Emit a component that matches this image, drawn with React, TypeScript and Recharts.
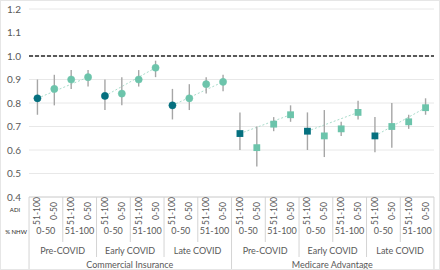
import React from 'react';
import { ComposedChart, Line, XAxis, YAxis, CartesianGrid, ReferenceLine, ErrorBar } from 'recharts';

const insurances = ['Commercial Insurance', 'Medicare Advantage'];
const periods = ['Pre-COVID', 'Early COVID', 'Late COVID'];
const nhwGroups = ['0-50', '51-100'];
const adiGroups = ['51-100', '0-50'];

const estimates = [
  0.82, 0.86, 0.90, 0.91,
  0.83, 0.84, 0.90, 0.95,
  0.79, 0.82, 0.88, 0.89,
  0.67, 0.61, 0.71, 0.75,
  0.68, 0.66, 0.69, 0.76,
  0.66, 0.70, 0.72, 0.78,
];
const lowers = [
  0.75, 0.79, 0.86, 0.87,
  0.77, 0.79, 0.87, 0.91,
  0.73, 0.77, 0.84, 0.85,
  0.60, 0.53, 0.68, 0.72,
  0.60, 0.57, 0.66, 0.73,
  0.59, 0.61, 0.69, 0.75,
];
const uppers = [
  0.90, 0.92, 0.94, 0.94,
  0.90, 0.91, 0.94, 0.98,
  0.86, 0.88, 0.91, 0.92,
  0.76, 0.70, 0.74, 0.79,
  0.76, 0.77, 0.72, 0.81,
  0.74, 0.80, 0.75, 0.82,
];
const yTicks = [0.4, 0.5, 0.6, 0.7, 0.8, 0.9, 1.0, 1.1, 1.2];

const DARK = '#05707f';
const LIGHT = '#6cc4ab';
const TREND = '#a9dccb';
const TEXT = '#595959';
const SEP = '#d4d4d4';

type Row = { [k: string]: any };
const data: Row[] = [];
let idx = 0;
insurances.forEach((ins, ii) => {
  periods.forEach((per, pi) => {
    nhwGroups.forEach((nhw, ni) => {
      adiGroups.forEach((adi, ai) => {
        const v = estimates[idx];
        const g = ii * 3 + pi;
        const pos = ni * 2 + ai;
        const row: Row = {
          key: `${ins}|${per}|${nhw}|${adi}`,
          ins, per, nhw, adi, ii, pi, ni, ai, pos, g, idx,
          value: v,
          err: [+(v - lowers[idx]).toFixed(3), +(uppers[idx] - v).toFixed(3)],
        };
        if (pos === 0 || pos === 3) row[`trend${g}`] = v;
        data.push(row);
        idx++;
      });
    });
  });
});

const BAND = (432 - 29) / 24;
const FONT = 'Lato, "Open Sans", sans-serif';

const Dot = (props: any) => {
  const { cx, cy, payload } = props;
  if (cx == null || cy == null) return null;
  const fill = payload.pos === 0 ? DARK : LIGHT;
  if (payload.ii === 0) {
    return <circle cx={cx} cy={cy} r={3.6} fill={fill} stroke={fill} strokeWidth={0.5} />;
  }
  return <rect x={cx - 3.4} y={cy - 3.4} width={6.8} height={6.8} fill={fill} />;
};

const Tick = (props: any) => {
  const { x, y, payload } = props;
  const row = data[payload.index];
  if (!row) return null;
  const top = y;
  const left = x - BAND / 2;
  const els: any[] = [];
  els.push(
    <text key="adi" x={x + 3} y={top + 14} transform={`rotate(-90 ${x + 3} ${top + 14})`} textAnchor="middle" fontSize={8.5} fill={TEXT} fontFamily={FONT}>
      {row.adi}
    </text>
  );
  if (row.ai === 0) {
    let len = 45;
    if (row.ni === 0) len = 60;
    if (row.ni === 0 && row.pi === 0) len = 73;
    els.push(<path key="sepL" d={`M${left},${top}L${left},${top + len}`} stroke={SEP} strokeWidth={1} fill="none" />);
    els.push(
      <text key="nhw" x={x + BAND / 2} y={top + 37} textAnchor="middle" fontSize={9} fill={TEXT} fontFamily={FONT}>
        {row.nhw}
      </text>
    );
  }
  if (row.pos === 0) {
    els.push(
      <text key="per" x={x + BAND * 1.5} y={top + 56.5} textAnchor="middle" fontSize={9} fill={TEXT} fontFamily={FONT}>
        {row.per}
      </text>
    );
  }
  if (row.pos === 0 && row.pi === 0) {
    els.push(
      <text key="ins" x={x + BAND * 5.5} y={top + 71} textAnchor="middle" fontSize={9} fill={TEXT} fontFamily={FONT}>
        {row.ins}
      </text>
    );
  }
  if (payload.index === data.length - 1) {
    els.push(<path key="sepR" d={`M${x + BAND / 2},${top}L${x + BAND / 2},${top + 73}`} stroke={SEP} strokeWidth={1} fill="none" />);
  }
  if (payload.index === 0) {
    els.push(
      <text key="adiLab" x={14} y={top + 15} textAnchor="middle" fontSize={6} fill="#262626" fontFamily={FONT}>ADI</text>
    );
    els.push(
      <text key="nhwLab" x={15} y={top + 37} textAnchor="middle" fontSize={6} fill="#262626" fontFamily={FONT}>% NHW</text>
    );
  }
  return <g>{els}</g>;
};

const groupIds = [0, 1, 2, 3, 4, 5];

export default function App() {
  return (
    <div style={{ position: 'absolute', left: 0, top: 0, width: 440, height: 270, background: '#fff', boxSizing: 'border-box', border: '1px solid #e6e6e6' }}>
      <ComposedChart
        width={438}
        height={268}
        data={data}
        margin={{ top: 8, right: 5, bottom: 0, left: 0 }}
      >
        <CartesianGrid vertical={false} stroke="#e8e8e8" strokeWidth={1} />
        <XAxis
          dataKey="key"
          scale="band"
          interval={0}
          tickLine={false}
          axisLine={{ stroke: SEP }}
          height={72}
          tickSize={0}
          tickMargin={0}
          tick={<Tick />}
        />
        <YAxis
          domain={[0.4, 1.2]}
          ticks={yTicks}
          width={28}
          tickLine={false}
          axisLine={false}
          tickFormatter={(v: number) => v.toFixed(1)}
          tick={{ fontSize: 10, fill: TEXT, fontFamily: FONT }}
          tickMargin={2}
        />
        <ReferenceLine y={1.0} stroke="#595959" strokeWidth={1.8} strokeDasharray="4 2" />
        {groupIds.map((g) => (
          <Line
            key={`t${g}`}
            dataKey={`trend${g}`}
            stroke={TREND}
            strokeWidth={1}
            strokeDasharray="2 2"
            dot={false}
            connectNulls
            isAnimationActive={false}
            activeDot={false}
          />
        ))}
        <Line
          dataKey="value"
          stroke="none"
          dot={<Dot />}
          activeDot={false}
          isAnimationActive={false}
        >
          <ErrorBar dataKey="err" width={0} stroke="#a6a6a6" strokeWidth={1.4} direction="y" />
        </Line>
      </ComposedChart>
    </div>
  );
}
